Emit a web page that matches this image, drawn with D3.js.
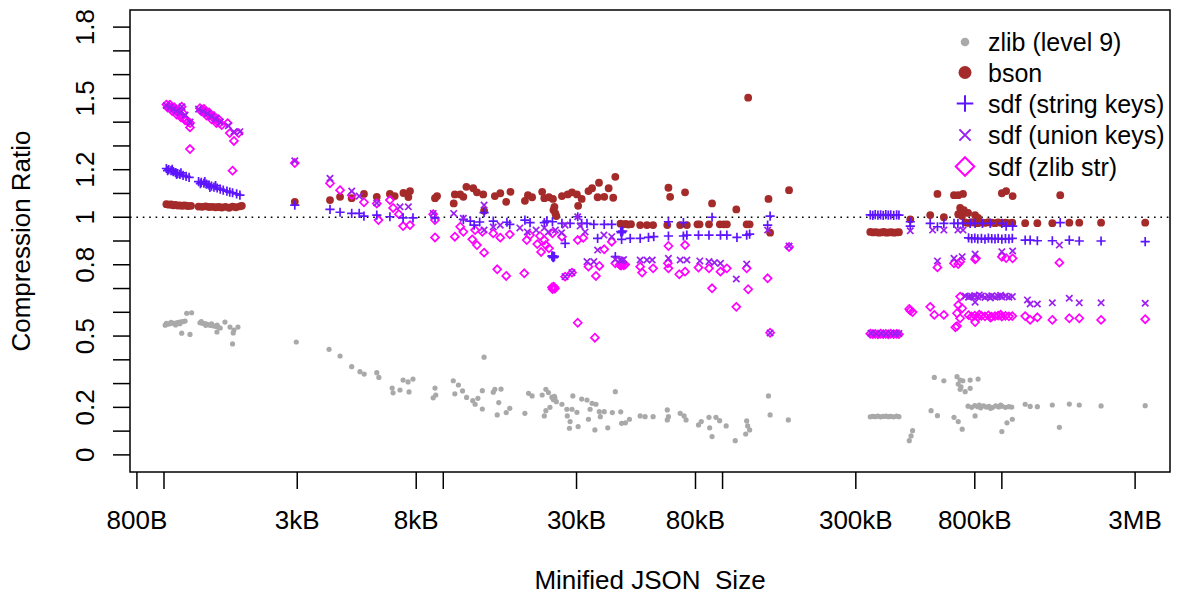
<!DOCTYPE html>
<html>
<head>
<meta charset="utf-8">
<script src="https://cdn.jsdelivr.net/npm/d3@7"></script>
<style>
  html, body { margin: 0; padding: 0; background: #fff; }
  svg { display: block; }
  text { font-family: "Liberation Sans", Arial, Helvetica, sans-serif; fill: #000; }
</style>
</head>
<body>
<div id="chart"></div>
<script>
// Compression ratio vs minified JSON size (sizes in kB)
const xTicks = [0.8, 1, 3, 8, 10, 30, 80, 100, 300, 800, 1000, 3000];
const xTickLabels = ['800B', '', '3kB', '8kB', '', '30kB', '80kB', '', '300kB', '800kB', '', '3MB'];
const yTicks = [0, 0.1, 0.2, 0.3, 0.4, 0.5, 0.6, 0.7, 0.8, 0.9, 1, 1.1, 1.2, 1.3, 1.4, 1.5, 1.6, 1.7, 1.8];
const yTickLabels = { '0': '0', '0.2': '0.2', '0.5': '0.5', '0.8': '0.8', '1': '1', '1.2': '1.2', '1.5': '1.5', '1.8': '1.8' };

const seriesNames = ['zlib (level 9)', 'bson', 'sdf (string keys)', 'sdf (union keys)', 'sdf (zlib str)'];

const zlibPts = [
  [1.01,0.546],[1.03,0.550],[1.05,0.552],[1.07,0.555],[1.09,0.553],[1.11,0.556],[1.13,0.558],[1.15,0.560],[1.17,0.561],[1.19,0.563],
  [1.02,0.553],[1.06,0.558],[1.10,0.547],[1.14,0.552],
  [1.206,0.596],[1.256,0.598],[1.157,0.512],[1.239,0.507],
  [1.345,0.556],[1.37,0.554],[1.40,0.552],[1.42,0.550],[1.45,0.547],[1.47,0.545],[1.50,0.543],[1.53,0.541],[1.56,0.538],[1.59,0.534],
  [1.36,0.561],[1.41,0.545],[1.48,0.551],[1.55,0.546],
  [1.653,0.559],[1.723,0.538],[1.84,0.538],[1.78,0.525],[1.77,0.513],[1.547,0.517],[1.76,0.467],
  [2.976,0.475],[3.90,0.444],[4.27,0.416],[4.70,0.371],[5.03,0.350],[5.21,0.340],[5.78,0.346],[5.88,0.326],
  [6.56,0.281],[6.61,0.261],[7.00,0.273],[7.18,0.315],[7.48,0.307],[7.79,0.319],[7.54,0.265],
  [9.34,0.281],[9.20,0.240],[9.4,0.252],
  [10.86,0.312],[11.33,0.294],[11.0,0.257],[11.72,0.269],[12.12,0.242],[12.75,0.228],[13.0,0.213],[13.3,0.238],[13.8,0.270],[13.8,0.193],
  [14.0,0.411],
  [15.1,0.264],[15.3,0.276],[16.1,0.277],[15.8,0.220],[15.6,0.168],[16.8,0.178],[17.3,0.196],[19.6,0.175],
  [20.2,0.259],[20.8,0.248],[22.6,0.252],[23.3,0.276],[23.0,0.164],[23.3,0.186],[24.1,0.200],[23.8,0.262],
  [24.5,0.243],[24.7,0.238],[24.9,0.236],[25.1,0.240],[24.8,0.232],[25.0,0.246],[25.4,0.224],
  [26.6,0.213],[27.7,0.192],[28.9,0.192],[30.1,0.179],[27.8,0.164],[28.45,0.140],[28.3,0.112],[30.4,0.119],[29.1,0.248],
  [31.3,0.235],[32.7,0.231],[34.1,0.217],[35.2,0.213],[33.55,0.192],[33.1,0.150],[34.9,0.105],[36.2,0.182],[36.5,0.161],
  [37.7,0.182],[38.8,0.114],[40.3,0.178],[41.3,0.266],[43.2,0.181],[43.5,0.133],[44.9,0.135],[46.4,0.150],
  [50.7,0.164],[52.8,0.161],[56.4,0.161],[63.4,0.189],[64.0,0.161],[63.4,0.147],[70.5,0.175],[72.8,0.164],[74.0,0.147],
  [82.0,0.126],[83.9,0.140],[89.4,0.158],[89.9,0.114],[91.7,0.077],[94.7,0.158],[97.6,0.144],[103,0.122],
  [111,0.060],[121,0.088],[123,0.122],[125,0.105],[122,0.143],[146,0.248],[148,0.168],[172,0.147],
  [338,0.160],[345,0.162],[352,0.161],[360,0.163],[368,0.160],[376,0.162],[385,0.163],[393,0.161],[400,0.162],[410,0.160],[420,0.163],[428,0.161],
  [479,0.102],[466,0.060],[473,0.080],
  [573,0.326],[620,0.312],[558,0.186],[588,0.165],
  [691,0.329],[709,0.315],[725,0.312],[770,0.315],[822,0.319],[698,0.298],[714,0.286],[709,0.276],[739,0.266],[770,0.280],
  [802,0.164],[674,0.158],[698,0.140],[721,0.108],
  [757,0.205],[780,0.200],[800,0.207],[820,0.203],[840,0.198],[860,0.206],[880,0.201],[900,0.204],[925,0.199],[950,0.206],
  [975,0.202],[1000,0.205],[1030,0.200],[1060,0.203],[1085,0.201],[830,0.210],[910,0.196],[990,0.209],
  [1000,0.098],[1043,0.135],[1090,0.150],
  [1212,0.213],[1263,0.204],[1340,0.203],[1516,0.210],[1607,0.116],[1744,0.214],[1893,0.210],[2266,0.206],[3260,0.207]
];

const bsonPts = [
  [1.02,1.055],[1.04,1.053],[1.06,1.054],[1.08,1.050],[1.10,1.052],[1.12,1.049],[1.14,1.050],[1.16,1.048],[1.18,1.050],[1.20,1.049],[1.22,1.047],[1.25,1.048],
  [1.33,1.045],[1.37,1.044],[1.41,1.046],[1.45,1.043],[1.49,1.044],[1.53,1.042],[1.57,1.043],[1.61,1.041],[1.66,1.044],[1.71,1.040],[1.76,1.045],[1.81,1.042],[1.87,1.046],[1.90,1.048],
  [2.94,1.065],[3.93,1.072],[4.27,1.086],[4.70,1.080],[5.20,1.098],[5.78,1.086],
  [6.44,1.098],[6.7,1.089],[7.2,1.102],[7.60,1.110],[7.5,1.085],
  [9.34,1.080],[9.5,1.089],
  [11.0,1.096],[10.9,1.058],[11.5,1.096],[11.8,1.086],[12.1,1.128],[12.8,1.122],[13.2,1.105],[13.9,1.096],[14.0,1.027],
  [15.3,1.089],[16.0,1.101],[16.8,1.065],[17.4,1.107],[19.6,1.069],[20.1,1.093],[20.8,1.084],
  [22.6,1.107],[23.0,1.080],[23.9,1.084],[24.7,1.077],[24.8,1.030],[25.2,1.016],[25.0,1.043],[25.4,1.005],
  [26.6,1.089],[27.9,1.096],[28.9,1.105],[30.1,1.096],[30.4,1.048],
  [31.3,1.077],[33.1,1.110],[34.1,1.122],[36.1,1.145],[35.7,1.084],[37.7,1.086],[39.1,1.122],[40.6,1.082],[41.3,1.170],
  [43.1,0.973],[44.0,0.970],[45.0,0.972],[46.0,0.969],[47.0,0.971],
  [50.7,0.967],[53.6,0.967],[56.4,0.967],
  [64.0,1.124],[64.9,1.086],[63.4,0.967],[70.5,0.967],[73.4,1.105],[74.5,0.967],
  [81.3,0.970],[82.7,0.970],[89.4,0.970],[91.7,1.058],[97.8,0.970],[101,0.970],[103.6,0.970],[112,1.033],[122,0.970],[125,0.970],
  [123.5,1.503],[146,1.077],[148,0.935],[173,1.114],
  [338,0.938],[346,0.936],[354,0.937],[362,0.935],[370,0.936],[378,0.938],[386,0.935],[394,0.936],[402,0.937],[410,0.935],[420,0.936],[428,0.937],
  [470,0.991],[554,1.009],[588,1.098],[620,1.000],
  [674,1.093],[698,1.093],[726,1.098],[709,1.039],[714,1.022],[720,1.005],[698,1.013],[731,1.030],[757,1.018],[802,1.009],[822,0.997],
  [740,0.978],[760,0.976],[780,0.979],[800,0.977],[820,0.975],[845,0.978],[870,0.976],[895,0.979],[920,0.977],[945,0.975],
  [970,0.978],[1000,0.976],[1030,0.977],[1060,0.975],[1090,0.977],
  [1000,1.101],[1036,1.110],[1093,1.089],
  [1212,0.975],[1340,0.975],[1516,0.975],[1618,1.093],[1744,0.977],[1893,0.977],[2266,0.977],[3260,0.977]
];

const sdfStringPts = [
  [1.02,1.205],[1.04,1.200],[1.06,1.196],[1.08,1.192],[1.10,1.188],[1.12,1.184],[1.14,1.180],[1.17,1.176],[1.20,1.172],[1.23,1.168],
  [1.03,1.196],[1.07,1.201],[1.11,1.180],[1.15,1.187],
  [1.33,1.150],[1.36,1.147],[1.39,1.143],[1.42,1.139],[1.45,1.135],[1.48,1.131],[1.51,1.127],[1.55,1.123],[1.59,1.118],[1.63,1.114],
  [1.68,1.110],[1.72,1.106],[1.76,1.103],[1.82,1.098],[1.87,1.093],
  [1.35,1.141],[1.40,1.150],[1.46,1.126],[1.53,1.133],
  [2.94,1.051],[3.93,1.033],[4.27,1.021],[4.70,1.016],[5.0,1.016],[5.20,1.005],[5.78,1.009],
  [6.44,1.002],[7.18,0.997],[7.79,0.997],[9.34,0.997],
  [11.8,0.991],[12.9,0.967],[12.5,0.984],[13.5,0.980],[14.0,1.019],[15.1,0.984],[16.9,0.979],[17.3,0.970],[19.6,0.988],[20.45,0.977],
  [23.0,0.977],[23.5,0.984],[24.6,0.981],[26.6,0.974],[27.3,0.890],[28.45,0.974],[30.3,1.002],[31.3,0.974],[32.7,0.974],
  [34.6,0.970],[37.7,0.970],[40.1,0.970],[35.7,0.911],
  [24.5,0.836],[24.7,0.832],[24.9,0.835],[24.8,0.830],[25.0,0.834],[24.6,0.838],
  [43.2,0.940],[43.6,0.938],[43.9,0.942],[43.4,0.935],
  [43.5,0.907],[46.7,0.911],[50.7,0.911],[54.3,0.915],[56.7,0.918],[41.3,0.834],
  [64.0,0.981],[64.0,0.921],[72.4,0.977],[72.4,0.921],[74.5,0.925],
  [82.0,0.925],[89.4,0.925],[91.7,1.000],[98.3,0.925],[103.6,0.925],[112.6,0.915],[122,0.925],[125,0.929],
  [148,1.005],[145,0.967],
  [338,1.010],[345,1.008],[352,1.011],[360,1.009],[368,1.010],[376,1.008],[384,1.011],[392,1.009],[400,1.010],[410,1.008],[420,1.010],[428,1.009],
  [470,0.981],[470,0.963],[554,0.974],[588,0.960],[620,0.974],
  [674,0.974],[696,0.974],[726,0.974],[770,0.974],[802,0.974],[852,0.974],[909,0.974],[1000,0.974],[1036,0.963],[1093,0.963],
  [760,0.913],[780,0.910],[800,0.912],[820,0.909],[845,0.911],[870,0.908],[895,0.912],[920,0.910],[945,0.909],[970,0.911],
  [1000,0.908],[1030,0.910],[1060,0.909],[1090,0.911],
  [1212,0.904],[1263,0.904],[1340,0.901],[1516,0.901],[1618,0.977],[1744,0.904],[1893,0.900],[2266,0.900],[3260,0.897]
];

const sdfUnionPts = [
  [1.02,1.470],[1.05,1.462],[1.08,1.455],[1.11,1.448],[1.14,1.440],[1.16,1.465],[1.19,1.430],[1.24,1.400],
  [1.33,1.455],[1.38,1.446],[1.43,1.436],[1.48,1.425],[1.53,1.414],[1.59,1.400],[1.70,1.385],[1.78,1.360],[1.87,1.360],
  [2.94,1.237],[3.93,1.164],[4.70,1.110],[5.0,1.089],[5.78,1.060],[7.0,1.044],[7.5,1.044],
  [9.2,1.016],[10.9,1.016],[11.8,0.995],[14.0,1.051],[14.0,0.946],
  [15.1,0.959],[16.0,0.967],[18.8,0.955],[20.0,0.938],[21.5,0.946],[23.0,0.955],[23.8,0.938],[25.2,0.946],[26.5,0.934],[27.3,0.967],
  [30.3,1.002],[30.9,0.963],[32.2,0.938],[34.6,0.813],[35.7,0.862],[37.6,0.925],[40.1,0.918],
  [27.3,0.750],[28.9,0.767],[32.7,0.813],
  [43.0,0.820],[43.6,0.818],[44.2,0.822],
  [41.3,0.823],[50.7,0.820],[53.6,0.820],[56.0,0.820],[64.0,0.827],[70.5,0.820],[74.5,0.820],
  [82.9,0.816],[89.4,0.813],[93.5,0.809],[98.3,0.806],[112,0.740],[122,0.803],
  [145,0.946],[148,0.513],[173,0.879],
  [340,0.512],[355,0.510],[370,0.511],[385,0.509],[400,0.512],[415,0.510],[428,0.511],
  [470,0.943],[565,0.946],[620,0.946],[588,0.816],
  [696,0.946],[726,0.946],[674,0.827],[721,0.834],[802,0.845],[764,0.666],
  [740,0.668],[760,0.664],[780,0.667],[800,0.670],[820,0.665],[845,0.668],[870,0.663],[895,0.667],[920,0.669],[945,0.664],
  [970,0.667],[1000,0.665],[1030,0.668],[1060,0.664],[1090,0.666],[802,0.643],[830,0.673],[910,0.660],[990,0.671],
  [1000,0.855],[1093,0.858],
  [1235,0.652],[1263,0.635],[1340,0.635],[1516,0.640],[1607,0.883],[1744,0.659],[1893,0.640],[2266,0.640],[3260,0.638]
];

const sdfZlibPts = [
  [1.02,1.474],[1.04,1.466],[1.06,1.461],[1.08,1.455],[1.10,1.449],[1.12,1.441],[1.14,1.434],[1.16,1.426],[1.18,1.418],[1.20,1.410],[1.22,1.402],[1.24,1.396],
  [1.03,1.462],[1.05,1.474],[1.07,1.447],[1.09,1.462],[1.11,1.432],[1.13,1.450],[1.15,1.420],[1.17,1.438],[1.19,1.408],
  [1.239,1.378],[1.239,1.287],[1.157,1.465],
  [1.345,1.459],[1.37,1.452],[1.40,1.444],[1.43,1.437],[1.46,1.430],[1.49,1.422],[1.52,1.414],[1.55,1.405],[1.58,1.396],[1.61,1.388],
  [1.36,1.446],[1.39,1.456],[1.42,1.428],[1.45,1.441],[1.48,1.412],[1.51,1.426],[1.54,1.396],[1.57,1.412],
  [1.69,1.396],[1.72,1.354],[1.85,1.354],[1.78,1.321],[1.76,1.196],
  [2.94,1.228],[3.93,1.143],[4.27,1.114],[4.70,1.093],[5.20,1.063],[5.78,1.058],[5.86,0.988],
  [6.44,1.072],[6.61,1.039],[6.93,1.013],[7.18,0.963],[7.60,0.967],
  [9.34,0.988],[9.34,0.915],[9.2,1.013],
  [11.0,0.918],[11.5,0.960],[11.8,0.939],[12.7,0.907],[13.2,0.883],[14.0,0.851],[13.0,0.946],[13.8,0.939],
  [15.6,0.781],[16.8,0.753],[15.1,0.932],[16.0,0.914],[17.3,0.928],
  [19.5,0.764],[19.9,0.904],[20.45,0.925],
  [23.0,0.904],[23.3,0.883],[23.9,0.869],[24.6,0.932],[22.2,0.921],[21.7,0.887],[22.4,0.854],
  [24.5,0.705],[24.7,0.702],[24.9,0.706],[25.1,0.700],[24.6,0.698],[24.8,0.708],[25.0,0.703],
  [26.6,0.918],[27.3,0.750],[28.9,0.767],[30.3,0.556],[30.3,0.904],[31.7,0.913],[33.1,0.792],[35.2,0.753],[34.9,0.493],
  [36.2,0.795],[37.7,0.865],[40.1,0.897],
  [42.8,0.800],[43.3,0.797],[43.8,0.802],[44.3,0.798],[44.8,0.801],[43.5,0.805],
  [41.3,0.806],[50.7,0.792],[51.5,0.767],[56.4,0.785],
  [63.7,0.806],[64.0,0.785],[64.0,0.879],[70.0,0.760],[73.4,0.771],[73.4,0.883],
  [82.0,0.788],[89.4,0.785],[91.7,0.701],[98.3,0.771],[103.6,0.785],[112,0.623],[122,0.785],[123.5,0.697],
  [145,0.743],[148,0.514],[173,0.875],
  [338,0.510],[345,0.508],[352,0.509],[360,0.507],[368,0.510],[376,0.508],[384,0.509],[392,0.507],[400,0.510],[410,0.508],[420,0.509],[428,0.508],
  [470,0.607],[479,0.601],[466,0.614],
  [554,0.623],[573,0.589],[620,0.589],[588,0.789],
  [674,0.806],[709,0.813],[698,0.803],[802,0.823],
  [709,0.666],[698,0.631],[721,0.617],[691,0.596],[709,0.575],[691,0.542],[682,0.537],
  [808,0.827],[1000,0.834],[1036,0.828],[1093,0.827],
  [760,0.588],[780,0.582],[800,0.586],[820,0.580],[845,0.585],[870,0.583],[895,0.587],[920,0.581],[945,0.584],[970,0.586],
  [1000,0.582],[1030,0.585],[1060,0.583],[1090,0.584],[802,0.559],[830,0.590],[910,0.578],[990,0.590],
  [1212,0.584],[1263,0.568],[1340,0.579],[1516,0.568],[1607,0.809],[1744,0.575],[1893,0.575],[2266,0.568],[3260,0.571]
];

(function() {
  'use strict';

  const width = 1181;
  const height = 594;
  const plot = { left: 130, right: 1170, top: 10, bottom: 472 };
  const font = '26px';
  const legendFont = '25px';

  const colors = {
    zlib: '#a9a9a9',
    bson: '#a52a2a',
    str: '#5d14ff',
    union: '#9a1ff0',
    zstr: '#ff00ff'
  };

  const svg = d3.select('#chart')
    .append('svg')
    .attr('width', width)
    .attr('height', height);

  // log x (R pads the range by 4%), linear y from 0 to 1.8 padded
  const x = d3.scaleLog()
    .domain([0.7556, 4000])
    .range([plot.left, plot.right]);
  const y = d3.scaleLinear()
    .domain([-0.072, 1.872])
    .range([plot.bottom, plot.top]);

  // Reference line at ratio 1
  svg.append('line')
    .attr('x1', plot.left).attr('x2', plot.right)
    .attr('y1', y(1)).attr('y2', y(1))
    .attr('stroke', '#000')
    .attr('stroke-width', 1.6)
    .attr('stroke-dasharray', '1.6,4.8');

  // Marker shapes
  const plus = s => `M${-s},0H${s}M0,${-s}V${s}`;
  const cross = s => `M${-s},${-s}L${s},${s}M${-s},${s}L${s},${-s}`;
  const diamond = s => `M0,${-s}L${s},0L0,${s}L${-s},0Z`;

  const pts = svg.append('g');

  pts.append('g').selectAll('circle')
    .data(zlibPts).join('circle')
    .attr('cx', d => x(d[0])).attr('cy', d => y(d[1]))
    .attr('r', 2.6)
    .attr('fill', colors.zlib);

  pts.append('g').selectAll('circle')
    .data(bsonPts).join('circle')
    .attr('cx', d => x(d[0])).attr('cy', d => y(d[1]))
    .attr('r', 3.9)
    .attr('fill', colors.bson);

  pts.append('g').selectAll('path')
    .data(sdfZlibPts).join('path')
    .attr('transform', d => `translate(${x(d[0])},${y(d[1])})`)
    .attr('d', diamond(4))
    .attr('fill', 'none')
    .attr('stroke', colors.zstr)
    .attr('stroke-width', 1.7);

  pts.append('g').selectAll('path')
    .data(sdfStringPts).join('path')
    .attr('transform', d => `translate(${x(d[0])},${y(d[1])})`)
    .attr('d', plus(4.6))
    .attr('fill', 'none')
    .attr('stroke', colors.str)
    .attr('stroke-width', 1.7);

  pts.append('g').selectAll('path')
    .data(sdfUnionPts).join('path')
    .attr('transform', d => `translate(${x(d[0])},${y(d[1])})`)
    .attr('d', cross(3.2))
    .attr('fill', 'none')
    .attr('stroke', colors.union)
    .attr('stroke-width', 1.7);

  // Frame
  svg.append('rect')
    .attr('x', plot.left).attr('y', plot.top)
    .attr('width', plot.right - plot.left)
    .attr('height', plot.bottom - plot.top)
    .attr('fill', 'none')
    .attr('stroke', '#000')
    .attr('stroke-width', 1.5);

  // X axis ticks + labels
  const xa = svg.append('g');
  xa.selectAll('line')
    .data(xTicks).join('line')
    .attr('x1', d => x(d)).attr('x2', d => x(d))
    .attr('y1', plot.bottom).attr('y2', plot.bottom + 17)
    .attr('stroke', '#000').attr('stroke-width', 1.5);
  xa.selectAll('text')
    .data(xTicks).join('text')
    .attr('x', d => x(d))
    .attr('y', 529)
    .attr('text-anchor', 'middle')
    .attr('font-size', font)
    .text((d, i) => xTickLabels[i]);

  // Y axis ticks + labels (rotated, R style)
  const ya = svg.append('g');
  ya.selectAll('line')
    .data(yTicks).join('line')
    .attr('x1', plot.left - 17).attr('x2', plot.left)
    .attr('y1', d => y(d)).attr('y2', d => y(d))
    .attr('stroke', '#000').attr('stroke-width', 1.5);
  ya.selectAll('text')
    .data(yTicks.filter(d => yTickLabels[String(d)] !== undefined)).join('text')
    .attr('transform', d => `translate(94,${y(d)}) rotate(-90)`)
    .attr('text-anchor', 'middle')
    .attr('font-size', font)
    .text(d => yTickLabels[String(d)]);

  // Axis titles
  svg.append('text')
    .attr('x', (plot.left + plot.right) / 2)
    .attr('y', 589)
    .attr('text-anchor', 'middle')
    .attr('font-size', font)
    .attr('xml:space', 'preserve')
    .style('white-space', 'pre')
    .text('Minified JSON  Size');

  svg.append('text')
    .attr('transform', `translate(30,${(plot.top + plot.bottom) / 2}) rotate(-90)`)
    .attr('text-anchor', 'middle')
    .attr('font-size', font)
    .text('Compression Ratio');

  // Legend
  const legend = svg.append('g').attr('transform', 'translate(965,0)');
  const rows = [42, 72.5, 103.5, 135, 166.5];
  const keys = ['zlib', 'bson', 'str', 'union', 'zstr'];
  keys.forEach((k, i) => {
    const row = legend.append('g').attr('transform', `translate(0,${rows[i]})`);
    if (k === 'zlib') {
      row.append('circle').attr('r', 4.3).attr('fill', colors.zlib);
    } else if (k === 'bson') {
      row.append('circle').attr('r', 6.5).attr('fill', colors.bson);
    } else {
      const d = k === 'str' ? plus(8.3) : k === 'union' ? cross(5.6) : diamond(9.3);
      const c = k === 'str' ? colors.str : k === 'union' ? colors.union : colors.zstr;
      row.append('path').attr('d', d).attr('fill', 'none').attr('stroke', c).attr('stroke-width', 2);
    }
    row.append('text')
      .attr('x', 23)
      .attr('y', 9)
      .attr('font-size', legendFont)
      .text(seriesNames[i]);
  });
})();
</script>
</body>
</html>
